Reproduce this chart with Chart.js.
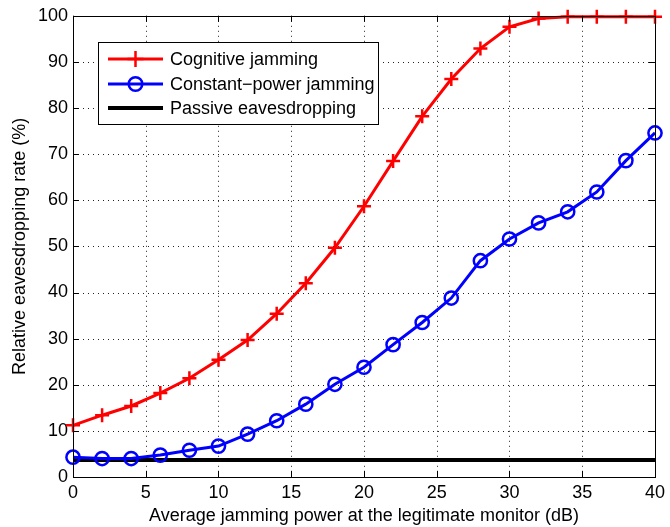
<!DOCTYPE html>
<html><head><meta charset="utf-8">
<script src="https://cdn.jsdelivr.net/npm/chart.js@4/dist/chart.umd.min.js"></script>
<style>html,body{margin:0;padding:0;background:#fff}#wrap{width:670px;height:527px}</style>
</head><body><div id="wrap"><canvas id="c" width="670" height="527"></canvas></div>
<script>
const xValues = [0,2,4,6,8,10,12,14,16,18,20,22,24,26,28,30,32,34,36,38,40];
const cognitive = [11.2,13.4,15.4,18.2,21.4,25.4,29.7,35.4,42.0,49.7,58.7,68.5,78.2,86.3,92.9,97.6,99.4,99.8,99.8,99.8,99.8];
const constantPower = [4.3,4.0,4.0,4.75,5.8,6.7,9.3,12.2,15.8,20.1,23.8,28.7,33.5,38.8,46.9,51.6,55.1,57.5,61.8,68.6,74.6];
const passive = [3.7,3.7,3.7,3.7,3.7,3.7,3.7,3.7,3.7,3.7,3.7,3.7,3.7,3.7,3.7,3.7,3.7,3.7,3.7,3.7,3.7];
const xTicks = [0,5,10,15,20,25,30,35,40];
const yTicks = [0,10,20,30,40,50,60,70,80,90,100];
const seriesLabels = ['Cognitive jamming','Constant\u2212power jamming','Passive eavesdropping'];

const FONT = "'Liberation Sans', Arial, Helvetica, sans-serif";
Chart.defaults.font.family = FONT;
Chart.defaults.color = '#000';

const pts = a => a.map((v,i)=>({x:xValues[i], y:v}));

const gridPlugin = {
  id:'gridPlugin',
  beforeDatasetsDraw(chart){
    const ctx = chart.ctx, a = chart.chartArea;
    const xs = chart.scales.x, ys = chart.scales.y;
    ctx.save();
    ctx.strokeStyle = '#222'; ctx.lineWidth = 1; ctx.setLineDash([1,4]);
    ctx.beginPath();
    xTicks.forEach(t=>{const p=Math.round(xs.getPixelForValue(t))+0.5;
      ctx.moveTo(p,a.top); ctx.lineTo(p,a.bottom);});
    yTicks.forEach(t=>{const p=Math.round(ys.getPixelForValue(t))+0.5;
      ctx.moveTo(a.left,p); ctx.lineTo(a.right,p);});
    ctx.stroke();
    ctx.restore();
  }
};

const frameAndLegend = {
  id:'frameAndLegend',
  afterDatasetsDraw(chart){
    const ctx = chart.ctx, a = chart.chartArea;
    const xs = chart.scales.x, ys = chart.scales.y;
    ctx.save();
    ctx.strokeStyle = '#000'; ctx.lineWidth = 1; ctx.setLineDash([]);
    ctx.beginPath();
    xTicks.forEach(t=>{const p=Math.round(xs.getPixelForValue(t))+0.5;
      ctx.moveTo(p,a.bottom); ctx.lineTo(p,a.bottom-6);
      ctx.moveTo(p,a.top); ctx.lineTo(p,a.top+6);});
    yTicks.forEach(t=>{const p=Math.round(ys.getPixelForValue(t))+0.5;
      ctx.moveTo(a.left,p); ctx.lineTo(a.left+6,p);
      ctx.moveTo(a.right,p); ctx.lineTo(a.right-6,p);});
    ctx.stroke();
    ctx.strokeRect(Math.round(a.left)+0.5, Math.round(a.top)+0.5, Math.round(a.right-a.left), Math.round(a.bottom-a.top));
    const bx=98, by=42, bw=280, bh=82;
    ctx.fillStyle='#fff'; ctx.fillRect(bx,by,bw,bh);
    ctx.strokeRect(bx+0.5,by+0.5,bw,bh);
    const rows=[59,84,108];
    chart.data.datasets.forEach((ds,i)=>{
      const y=rows[i];
      ctx.strokeStyle=ds.borderColor; ctx.lineWidth=ds.borderWidth;
      ctx.beginPath(); ctx.moveTo(108,y); ctx.lineTo(163,y); ctx.stroke();
      const cx=135.5;
      if(ds.pointStyle==='cross'){
        ctx.lineWidth=2.5; ctx.beginPath();
        ctx.moveTo(cx-8,y); ctx.lineTo(cx+8,y); ctx.moveTo(cx,y-8); ctx.lineTo(cx,y+8); ctx.stroke();
      } else if(ds.pointStyle==='circle' && ds.pointRadius>0){
        ctx.lineWidth=2.5; ctx.beginPath(); ctx.arc(cx,y,6.8,0,Math.PI*2); ctx.stroke();
      }
      ctx.fillStyle='#000'; ctx.font='18px '+FONT; ctx.textBaseline='middle'; ctx.textAlign='left';
      ctx.fillText(ds.label,170,y+1);
    });
    ctx.restore();
  }
};

new Chart(document.getElementById('c'),{
  type:'line',
  data:{datasets:[
    {label:seriesLabels[0], data:pts(cognitive), borderColor:'#ff0000', borderWidth:3, pointStyle:'cross', pointRadius:7, pointBorderWidth:2.5, pointBorderColor:'#ff0000', backgroundColor:'#ff0000', tension:0},
    {label:seriesLabels[1], data:pts(constantPower), borderColor:'#0000ff', borderWidth:3, pointStyle:'circle', pointRadius:6.6, pointBorderWidth:2.5, pointBorderColor:'#0000ff', pointBackgroundColor:'rgba(0,0,0,0)', backgroundColor:'rgba(0,0,0,0)', tension:0},
    {label:seriesLabels[2], data:pts(passive), borderColor:'#000000', borderWidth:4, pointRadius:0, pointStyle:'line', tension:0}
  ]},
  options:{
    responsive:false, animation:false, clip:false,
    layout:{padding:{left:0,right:9,top:14,bottom:0}},
    plugins:{legend:{display:false}, tooltip:{enabled:false}},
    scales:{
      x:{type:'linear', min:0, max:40,
        afterFit(s){s.height=50;},
        afterBuildTicks(s){s.ticks=xTicks.map(v=>({value:v}));},
        grid:{display:false, drawTicks:false},
        border:{display:false},
        ticks:{font:{size:18}, padding:5, color:'#000', autoSkip:false, maxRotation:0},
        title:{display:true, text:'Average jamming power at the legitimate monitor (dB)', font:{size:18}, padding:{top:0,bottom:0}}
      },
      y:{type:'linear', min:0, max:100,
        afterFit(s){s.width=73;},
        afterBuildTicks(s){s.ticks=yTicks.map(v=>({value:v}));},
        grid:{display:false, drawTicks:false},
        border:{display:false},
        ticks:{font:{size:18}, padding:5, color:'#000'},
        title:{display:true, text:'Relative eavesdropping rate (%)', font:{size:18}, padding:{top:9,bottom:0}}
      }
    }
  },
  plugins:[gridPlugin, frameAndLegend]
});
</script></body></html>
